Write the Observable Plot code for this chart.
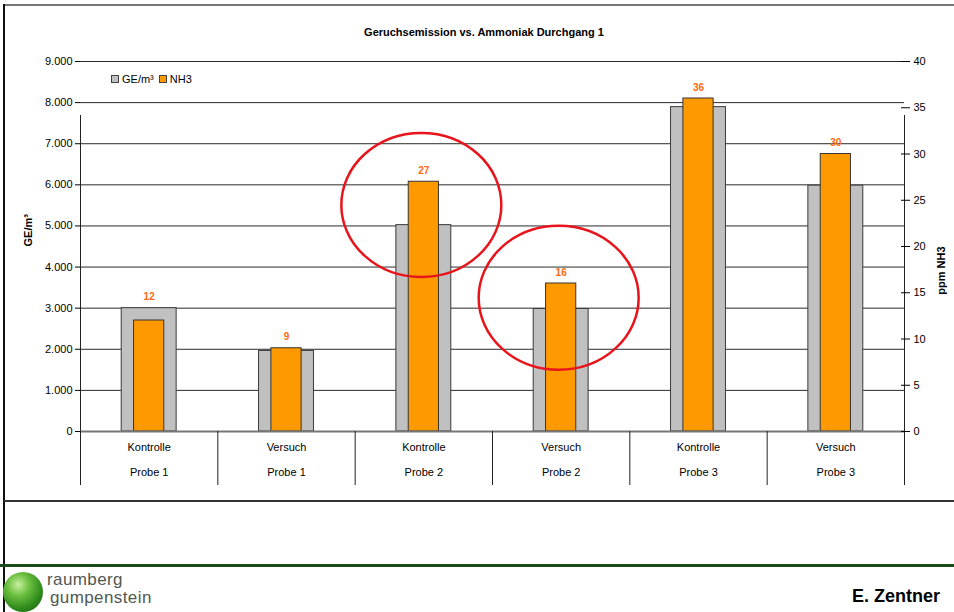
<!DOCTYPE html>
<html>
<head>
<meta charset="utf-8">
<script src="https://cdn.jsdelivr.net/npm/d3@7"></script>
<script src="https://cdn.jsdelivr.net/npm/@observablehq/plot@0.6"></script>
<style>
  body { margin: 0; background: #fff; }
  #page { position: relative; width: 954px; height: 612px; overflow: hidden;
          font-family: "Liberation Sans", Arial, sans-serif; color: #000; }
  #page svg { position: absolute; left: 0; top: 0; }
  .abs { position: absolute; }
  #title { left: 284px; width: 400px; top: 26px; text-align: center; font-weight: bold; font-size: 11px; }
  #legend { left: 111px; top: 73px; font-size: 11px; display: flex; align-items: center; white-space: nowrap; }
  #legend .sw { width: 6px; height: 6px; border: 1px solid #444; margin-right: 3px; }
  #legend .item { display: flex; align-items: center; margin-right: 5px; }
  .frameTop { left: 4px; top: 4px; width: 950px; height: 2px; background: #777; }
  .frameLeft { left: 3px; top: 4px; width: 2px; height: 608px; background: #111; }
  .sep { left: 4px; top: 500px; width: 950px; height: 2px; background: #333; }
  .green { left: 0; top: 564px; width: 954px; height: 3px; background: #1d4a1d; }
  #logoBall { left: 3px; top: 572px; width: 40px; height: 40px; border-radius: 50%;
              background: radial-gradient(circle at 38% 32%, #c8f0a0 0%, #6cc040 30%, #2f8a1c 65%, #175410 100%); }
  .logoText { font-size: 17px; color: #505850; letter-spacing: 0.4px; line-height: 1; }
  #author { right: 14px; top: 586px; font-size: 18px; font-weight: bold; }
</style>
</head>
<body>
<div id="page">
  <div id="chart"></div>
  <div class="abs frameTop"></div>
  <div class="abs frameLeft"></div>
  <div class="abs sep"></div>
  <div class="abs green"></div>
  <div class="abs" id="title">Geruchsemission vs. Ammoniak Durchgang 1</div>
  <div class="abs" id="legend"></div>
  <div class="abs" id="logoBall"></div>
  <div class="abs logoText" style="left:47px; top:571px;">raumberg</div>
  <div class="abs logoText" style="left:50px; top:589px;">gumpenstein</div>
  <div class="abs" id="author">E. Zentner</div>
</div>
<script>
// Sample categories (two-level axis labels)
const groups = ["Kontrolle", "Versuch", "Kontrolle", "Versuch", "Kontrolle", "Versuch"];
const probes = ["Probe 1", "Probe 1", "Probe 2", "Probe 2", "Probe 3", "Probe 3"];

// Odour concentration (GE/m³, left axis) and ammonia (ppm NH3, right axis)
const geValues = [3000, 1960, 5020, 2980, 7890, 5980];
const nh3Values = [12, 9, 27, 16, 36, 30];

// Axis ticks
const geTicks = [0, 1000, 2000, 3000, 4000, 5000, 6000, 7000, 8000, 9000];
const nh3Ticks = [0, 5, 10, 15, 20, 25, 30, 35, 40];

// Legend entries
const seriesNames = ["GE/m³", "NH3"];
const seriesColors = ["#c0c0c0", "#ff9900"];

// Samples circled in red
const highlighted = [2, 3];

const geMax = 9000, nh3Max = 40;
const k = geMax / nh3Max; // maps ppm onto the shared vertical scale

const data = groups.map((g, i) => ({i, group: g, probe: probes[i], ge: geValues[i], nh3: nh3Values[i]}));
const deFormat = d => d3.format(",")(d).replace(/,/g, ".");
const font = '"Liberation Sans", Arial, sans-serif';

const plot = Plot.plot({
  width: 954,
  height: 612,
  marginLeft: 80,
  marginRight: 50,
  marginTop: 61,
  marginBottom: 181,
  style: {fontFamily: font, fontSize: "11px", color: "#000", background: "transparent", overflow: "visible"},
  x: {domain: [0, groups.length], axis: null},
  y: {domain: [0, geMax], axis: null},
  marks: [
    // horizontal gridlines
    Plot.ruleY(geTicks.filter(d => d > 0), {stroke: "#2a2a2a", strokeWidth: 1}),
    // GE/m³ bars
    Plot.rect(data, {x1: d => d.i + 0.3, x2: d => d.i + 0.7, y1: 0, y2: "ge",
      fill: seriesColors[0], stroke: "#3a3a3a", strokeWidth: 1}),
    // NH3 bars (right axis)
    Plot.rect(data, {x1: d => d.i + 0.39, x2: d => d.i + 0.61, y1: 0, y2: d => d.nh3 * k,
      fill: seriesColors[1], stroke: "#333", strokeWidth: 1}),
    // NH3 value labels, above the taller bar of each pair
    Plot.text(data, {x: d => d.i + 0.5, y: d => Math.max(d.ge, d.nh3 * k), text: d => String(d.nh3), dy: -11,
      fill: "#ff6a10", fontWeight: "bold", fontSize: 10}),
    // baseline
    Plot.ruleY([0], {stroke: "#777", strokeWidth: 2}),
    // category separators and outer axis lines, extended through the label area
    Plot.axisX(d3.range(groups.length + 1), {tickSize: 54, tickFormat: () => "", stroke: "#222"}),
    Plot.ruleX([0, groups.length], {y1: 0, y2: geMax, stroke: "#222", insetBottom: -54}),
    // category labels
    Plot.axisX(data.map(d => d.i + 0.5), {tickSize: 0, tickPadding: 12, tickFormat: v => groups[Math.floor(v)]}),
    Plot.axisX(data.map(d => d.i + 0.5), {tickSize: 0, tickPadding: 37, tickFormat: v => probes[Math.floor(v)]}),
    // left axis
    Plot.axisY(geTicks, {anchor: "left", tickSize: 5, tickPadding: 3, tickFormat: deFormat, label: null}),
    // right axis (ppm NH3)
    Plot.axisY(nh3Ticks.map(v => v * k), {anchor: "right", tickSize: 9, dx: -4, tickPadding: 4,
      tickFormat: v => String(Math.round(v / k)), label: null}),
    // axis titles
    Plot.text(["GE/m³"], {frameAnchor: "left", dx: -52, rotate: -90, text: d => d, fontWeight: "bold", fontSize: 11}),
    Plot.text(["ppm NH3"], {frameAnchor: "right", dx: 37, rotate: -90, text: d => d, fontWeight: "bold", fontSize: 11})
  ]
});

// red highlight ellipses around the selected samples
const sx = plot.scale("x"), sy = plot.scale("y");
const svg = d3.select(plot);
highlighted.forEach(i => {
  const d = data[i];
  const cy = (sy.apply(d.ge) + sy.apply(d.nh3 * k)) / 2 + 2;
  svg.append("ellipse")
    .attr("cx", sx.apply(d.i + 0.5) - 2)
    .attr("cy", cy)
    .attr("rx", 80)
    .attr("ry", 72)
    .attr("fill", "none")
    .attr("stroke", "#e8141c")
    .attr("stroke-width", 2.5);
});

document.getElementById("chart").appendChild(plot);

// legend
const legend = d3.select("#legend");
seriesNames.forEach((name, j) => {
  const item = legend.append("div").attr("class", "item");
  item.append("div").attr("class", "sw").style("background", seriesColors[j]);
  item.append("span").text(name);
});
</script>
</body>
</html>
